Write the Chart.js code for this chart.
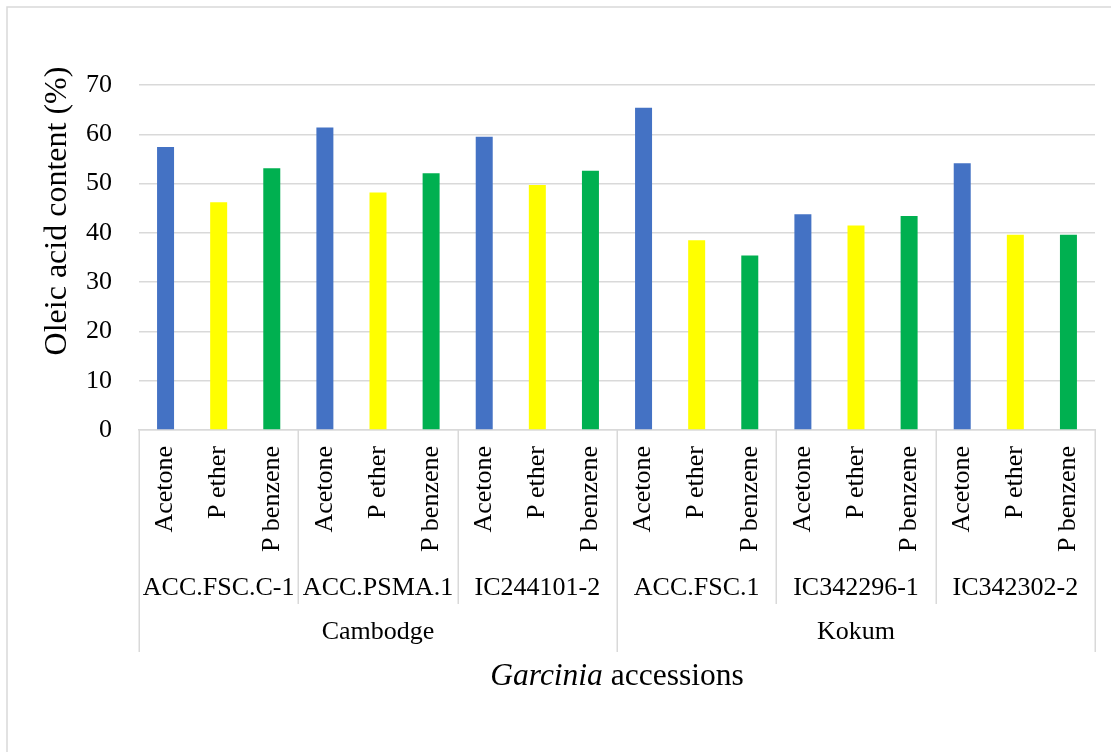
<!DOCTYPE html>
<html>
<head>
<meta charset="utf-8">
<title>Oleic acid content of Garcinia accessions</title>
<script src="https://cdn.jsdelivr.net/npm/chart.js@4.4.1/dist/chart.umd.min.js"></script>
<style>
  html, body { margin: 0; padding: 0; background: #ffffff; }
  #wrap { width: 1111px; height: 752px; }
</style>
</head>
<body>
<div id="wrap"><canvas id="chart" width="1111" height="752"></canvas></div>
<script>
// Solvent extracts per accession, accessions and their species group
const solvents = ['Acetone', 'P ether', 'P benzene'];
const accessions = ['ACC.FSC.C-1', 'ACC.PSMA.1', 'IC244101-2', 'ACC.FSC.1', 'IC342296-1', 'IC342302-2'];
const groups = ['Cambodge', 'Kokum'];
const accessionsPerGroup = [3, 3];

// Oleic acid content (%), in the order accession -> solvent
const oleicAcid = [
  57.4, 46.2, 53.1,
  61.4, 48.2, 52.1,
  59.5, 49.7, 52.6,
  65.4, 38.5, 35.4,
  43.8, 41.5, 43.4,
  54.1, 39.6, 39.6
];

const yTicks = [0, 10, 20, 30, 40, 50, 60, 70];
const yTitle = 'Oleic acid content (%)';
const xTitleItalic = 'Garcinia';
const xTitleRest = ' accessions';

const solventColors = { 'Acetone': '#4472C4', 'P ether': '#FFFF00', 'P benzene': '#00B050' };

const categoryLabels = accessions.flatMap(() => solvents);
const barColors = categoryLabels.map(s => solventColors[s]);

const SERIF = '"Liberation Serif", "Times New Roman", serif';
const LINE = '#d9d9d9';

// Outer frame, category separators and the two axis titles
const decorations = {
  id: 'decorations',
  beforeDraw(chart) {
    const ctx = chart.ctx;
    ctx.save();
    ctx.fillStyle = '#ffffff';
    ctx.fillRect(0, 0, chart.width, chart.height);
    ctx.strokeStyle = LINE;
    ctx.lineWidth = 1.5;
    ctx.strokeRect(7, 7, chart.width + 20, chart.height + 20);
    ctx.restore();
  },
  afterDraw(chart) {
    const ctx = chart.ctx;
    const x = chart.scales.x, x2 = chart.scales.x2, x3 = chart.scales.x3;
    const n = categoryLabels.length;
    const step = x.width / n;
    const groupEdges = [0];
    accessionsPerGroup.reduce((acc, c) => { acc += c * solvents.length; groupEdges.push(acc); return acc; }, 0);

    ctx.save();
    ctx.strokeStyle = LINE;
    ctx.lineWidth = 1.5;
    for (let k = 0; k <= n; k += solvents.length) {
      const px = Math.round(x.left + k * step) + 0.25;
      const bottom = groupEdges.includes(k) ? x3.bottom : x2.bottom;
      ctx.beginPath();
      ctx.moveTo(px, x.top);
      ctx.lineTo(px, bottom);
      ctx.stroke();
    }
    ctx.restore();

    const area = chart.chartArea;
    ctx.save();
    ctx.fillStyle = '#000000';
    // vertical axis title
    ctx.font = '32px ' + SERIF;
    ctx.textAlign = 'center';
    ctx.textBaseline = 'alphabetic';
    ctx.translate(66, 211);
    ctx.rotate(-Math.PI / 2);
    ctx.fillText(yTitle, 0, 0);
    ctx.restore();

    // horizontal axis title with italic genus name
    ctx.save();
    ctx.fillStyle = '#000000';
    ctx.textBaseline = 'alphabetic';
    ctx.textAlign = 'left';
    const italicFont = 'italic 31.5px ' + SERIF;
    const plainFont = '31.5px ' + SERIF;
    ctx.font = italicFont;
    const w1 = ctx.measureText(xTitleItalic).width;
    ctx.font = plainFont;
    const w2 = ctx.measureText(xTitleRest).width;
    const cx = (area.left + area.right) / 2;
    const startX = cx - (w1 + w2) / 2;
    const baseY = x3.bottom + 33;
    ctx.font = italicFont;
    ctx.fillText(xTitleItalic, startX, baseY);
    ctx.font = plainFont;
    ctx.fillText(xTitleRest, startX + w1, baseY);
    ctx.restore();
  }
};

const tickFont = { family: SERIF, size: 26 };

new Chart(document.getElementById('chart'), {
  type: 'bar',
  data: {
    labels: categoryLabels,
    datasets: [{
      label: 'Oleic acid',
      data: oleicAcid,
      backgroundColor: barColors,
      borderWidth: 0,
      categoryPercentage: 1,
      barPercentage: 0.32
    }]
  },
  options: {
    responsive: false,
    animation: false,
    layout: { padding: { left: 35, right: 16, top: 85, bottom: 100 } },
    plugins: {
      legend: { display: false },
      tooltip: { enabled: false },
      title: { display: false }
    },
    scales: {
      y: {
        min: 0,
        max: yTicks[yTicks.length - 1],
        afterBuildTicks(scale) { scale.ticks = yTicks.map(v => ({ value: v })); },
        afterFit(scale) { scale.width = 104; },
        grid: { color: LINE, lineWidth: 1.5, drawTicks: false },
        border: { display: false },
        ticks: { font: tickFont, color: '#000000', padding: 27 }
      },
      x: {
        type: 'category',
        position: 'bottom',
        weight: 0,
        offset: true,
        afterFit(scale) { scale.height = 140; scale.paddingRight = 0; },
        grid: { display: false, drawTicks: false },
        border: { display: true, color: LINE, width: 1.5 },
        ticks: {
          font: tickFont, color: '#000000', padding: 16,
          minRotation: 90, maxRotation: 90, autoSkip: false
        }
      },
      x2: {
        type: 'category',
        position: 'bottom',
        weight: 1,
        offset: true,
        labels: accessions,
        afterFit(scale) { scale.height = 34; scale.paddingRight = 0; scale.paddingLeft = 0; },
        grid: { display: false, drawTicks: false },
        border: { display: false },
        ticks: { font: tickFont, color: '#000000', padding: 3, maxRotation: 0, autoSkip: false }
      },
      x3: {
        type: 'category',
        position: 'bottom',
        weight: 2,
        offset: true,
        labels: groups,
        afterFit(scale) { scale.height = 48; scale.paddingRight = 0; scale.paddingLeft = 0; },
        grid: { display: false, drawTicks: false },
        border: { display: false },
        ticks: { font: tickFont, color: '#000000', padding: 13, maxRotation: 0, autoSkip: false }
      }
    }
  },
  plugins: [decorations]
});
</script>
</body>
</html>
